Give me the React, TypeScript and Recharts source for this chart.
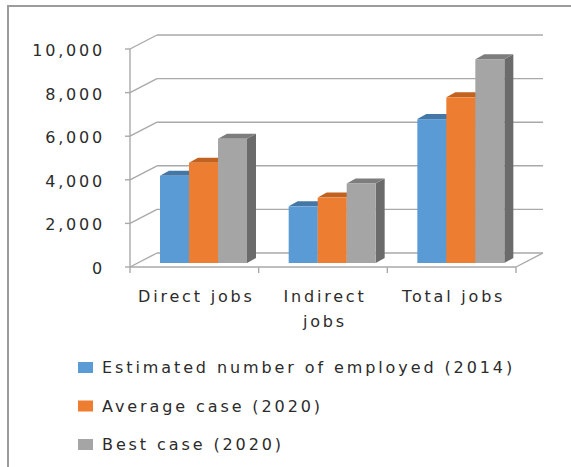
import React from "react";
import { BarChart, Bar, XAxis, YAxis, CartesianGrid, Legend } from "recharts";

const categories = ["Direct jobs", "Indirect jobs", "Total jobs"];
const categoryLines = [["Direct jobs"], ["Indirect", "jobs"], ["Total jobs"]];
const employed2014 = [4000, 2600, 6600];
const average2020 = [4600, 3000, 7600];
const best2020 = [5700, 3650, 9350];
const seriesNames = [
  "Estimated number of employed (2014)",
  "Average case (2020)",
  "Best case (2020)",
];
const yTicks = [0, 2000, 4000, 6000, 8000, 10000];

const data = categories.map((name, i) => ({
  name,
  employed: employed2014[i],
  average: average2020[i],
  best: best2020[i],
}));

const W = 571;
const H = 467;
const PLOT_LEFT = 130;
const PLOT_RIGHT = 516;
const PLOT_TOP = 49;
const PLOT_BOTTOM = 267;
const WALL_DX = 27;
const WALL_DY = 14;
const BAR_SHIFT_X = 9;
const BAR_SHIFT_Y = -4;
const BAR_DX = 9;
const BAR_DY = 5;
const GRID = "#a9a9a9";
const TEXT = "#2b2b2b";
const FONT = "'DejaVu Sans', sans-serif";

const COLORS = {
  employed: { front: "#5b9bd5", top: "#4577a6", side: "#3f6d98" },
  average: { front: "#ed7d31", top: "#c2621f", side: "#b2561a" },
  best: { front: "#a5a5a5", top: "#7d7d7d", side: "#6b6b6b" },
};

const makeShape = (c: { front: string; top: string; side: string }) => (props: any) => {
  const { x, y, width, height } = props;
  if (width == null || height == null) return <g />;
  const X = x + BAR_SHIFT_X;
  const Y = y + BAR_SHIFT_Y;
  const w = width;
  const h = height;
  const side = `${X + w},${Y} ${X + w + BAR_DX},${Y - BAR_DY} ${X + w + BAR_DX},${Y + h - BAR_DY} ${X + w},${Y + h}`;
  const top = `${X},${Y} ${X + BAR_DX},${Y - BAR_DY} ${X + w + BAR_DX},${Y - BAR_DY} ${X + w},${Y}`;
  return (
    <g>
      <polygon points={side} fill={c.side} />
      <polygon points={top} fill={c.top} />
      <rect x={X} y={Y} width={w} height={h} fill={c.front} />
    </g>
  );
};

const gridLine = (props: any) => {
  const { x1, y1, x2, index } = props;
  const isFloor = Math.abs(y1 - PLOT_BOTTOM) < 0.5;
  return (
    <g key={`g-${index}`}>
      <line x1={x1} y1={y1} x2={x1 + WALL_DX} y2={y1 - WALL_DY} stroke={GRID} strokeWidth={1.4} />
      <line x1={x1 + WALL_DX} y1={y1 - WALL_DY} x2={x2 + WALL_DX} y2={y1 - WALL_DY} stroke={GRID} strokeWidth={1.4} />
      {isFloor && (
        <line x1={x2} y1={y1} x2={x2 + WALL_DX} y2={y1 - WALL_DY} stroke={GRID} strokeWidth={1.4} />
      )}
    </g>
  );
};

const YTick = (props: any) => {
  const { x, y, payload } = props;
  return (
    <text
      x={x}
      y={y + 7}
      textAnchor="end"
      fontFamily={FONT}
      fontSize={16}
      letterSpacing={2.8}
      fill={TEXT}
    >
      {Number(payload.value).toLocaleString("en-US")}
    </text>
  );
};

const XTick = (props: any) => {
  const { x, payload, index } = props;
  const slot = (PLOT_RIGHT - PLOT_LEFT) / categories.length;
  const lines = categoryLines[index] || [payload.value];
  return (
    <g>
      <line x1={x - slot / 2} y1={PLOT_BOTTOM} x2={x - slot / 2} y2={PLOT_BOTTOM + 6} stroke={GRID} strokeWidth={1.4} />
      {index === categories.length - 1 && (
        <line x1={x + slot / 2} y1={PLOT_BOTTOM} x2={x + slot / 2} y2={PLOT_BOTTOM + 6} stroke={GRID} strokeWidth={1.4} />
      )}
      {lines.map((ln: string, i: number) => (
        <text
          key={i}
          x={x + 2}
          y={PLOT_BOTTOM + 35 + i * 25}
          textAnchor="middle"
          fontFamily={FONT}
          fontSize={16}
          letterSpacing={2.8}
          fill={TEXT}
        >
          {ln}
        </text>
      ))}
    </g>
  );
};

const LegendContent = (props: any) => {
  const payload = [...(props.payload || [])].sort(
    (a: any, b: any) => seriesNames.indexOf(a.value) - seriesNames.indexOf(b.value)
  );
  return (
    <svg width={W} height={110} style={{ display: "block" }}>
      {payload.map((p: any, i: number) => {
        const base = 23 + i * 38.5;
        return (
          <g key={i}>
            <rect x={78} y={base - 11} width={15} height={11} fill={p.color} />
            <text x={102} y={base} fontFamily={FONT} fontSize={16} letterSpacing={2.9} fill={TEXT}>
              {p.value}
            </text>
          </g>
        );
      })}
    </svg>
  );
};

export default function App() {
  return (
    <div style={{ position: "absolute", left: 0, top: 0, width: W, height: H, background: "#fff", overflow: "hidden" }}>
      <div
        style={{
          position: "absolute",
          left: 7,
          top: 5,
          width: W,
          height: H,
          borderLeft: "2px solid #9c9c9c",
          borderTop: "2px solid #9c9c9c",
        }}
      />
      <div style={{ position: "absolute", left: 0, top: 0 }}>
        <BarChart
          width={W}
          height={H}
          data={data}
          margin={{ top: PLOT_TOP, right: W - PLOT_RIGHT, bottom: 0, left: 0 }}
          barGap={0}
          barCategoryGap={0}
        >
          <CartesianGrid vertical={false} horizontal={gridLine} />
          <XAxis
            dataKey="name"
            height={H - PLOT_BOTTOM}
            axisLine={{ stroke: GRID, strokeWidth: 1.4 }}
            tickLine={false}
            tick={<XTick />}
            interval={0}
          />
          <YAxis
            width={PLOT_LEFT}
            domain={[0, 10000]}
            ticks={yTicks}
            axisLine={{ stroke: GRID, strokeWidth: 1.4 }}
            tickLine={{ stroke: GRID, strokeWidth: 1.4 }}
            tickSize={5}
            tickMargin={20}
            tick={<YTick />}
            interval={0}
          />
          <Legend
            layout="vertical"
            align="center"
            verticalAlign="middle"
            wrapperStyle={{ left: 0, top: 350, width: W }}
            content={<LegendContent />}
          />
          <Bar dataKey="employed" name={seriesNames[0]} fill={COLORS.employed.front} barSize={29} shape={makeShape(COLORS.employed)} isAnimationActive={false} />
          <Bar dataKey="average" name={seriesNames[1]} fill={COLORS.average.front} barSize={29} shape={makeShape(COLORS.average)} isAnimationActive={false} />
          <Bar dataKey="best" name={seriesNames[2]} fill={COLORS.best.front} barSize={29} shape={makeShape(COLORS.best)} isAnimationActive={false} />
        </BarChart>
      </div>
    </div>
  );
}
